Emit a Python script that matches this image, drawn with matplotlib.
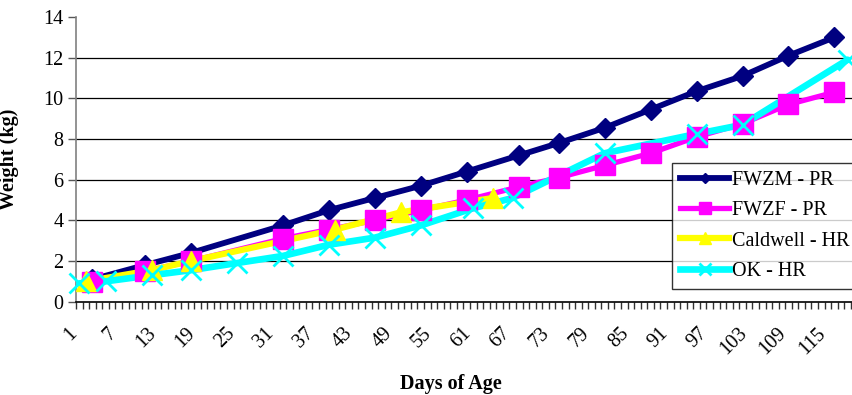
import matplotlib
matplotlib.use("Agg")
import matplotlib.pyplot as plt
from matplotlib.lines import Line2D
from matplotlib.transforms import ScaledTranslation

plt.rcParams['font.family'] = ['Liberation Serif', 'DejaVu Serif']

# ---- data ----
fwzm_days = [3, 11, 18, 32, 39, 46, 53, 60, 68, 74, 81, 88, 95, 102, 109, 116]
fwzm_wt = [1.1, 1.8, 2.4, 3.75, 4.5, 5.1, 5.7, 6.4, 7.2, 7.8, 8.55, 9.45, 10.35, 11.1, 12.1, 13.0]

fwzf_days = [3, 11, 18, 32, 39, 46, 53, 60, 68, 74, 81, 88, 95, 102, 109, 116]
fwzf_wt = [0.97, 1.5, 2.0, 3.1, 3.55, 4.0, 4.5, 5.0, 5.65, 6.1, 6.7, 7.3, 8.1, 8.75, 9.7, 10.3]

caldwell_days = [2, 12, 18, 40, 50, 64]
caldwell_wt = [1.0, 1.55, 2.0, 3.55, 4.4, 5.1]

ok_days = [1, 5, 12, 18, 25, 32, 39, 46, 53, 61, 67, 81, 95, 102, 118]
ok_wt = [0.9, 1.0, 1.3, 1.55, 1.9, 2.25, 2.8, 3.15, 3.75, 4.6, 5.1, 7.3, 8.25, 8.7, 11.9]

series_names = ["FWZM - PR", "FWZF - PR", "Caldwell - HR", "OK - HR"]
n_categories = 120
xtick_labels = list(range(1, 121, 6))
yticks = [0, 2, 4, 6, 8, 10, 12, 14]

# ---- styles ----
styles = [
    dict(color="#000080", marker="D", ms=10, mew=1, mfc="#000080", mec="#000080", lw=4.2),
    dict(color="#FF00FF", marker="s", ms=15, mew=1, mfc="#FF00FF", mec="#FF00FF", lw=3.8),
    dict(color="#FFFF00", marker="^", ms=15, mew=1, mfc="#FFFF00", mec="#FFFF00", lw=4.5),
    dict(color="#00FFFF", marker="x", ms=15, mew=2.0, mfc="#00FFFF", mec="#00FFFF", lw=4.8),
]
data = [(fwzm_days, fwzm_wt), (fwzf_days, fwzf_wt),
        (caldwell_days, caldwell_wt), (ok_days, ok_wt)]

fig = plt.figure(figsize=(8.52, 3.95), dpi=100)
ax = fig.add_axes([76/852, (395-301.7)/395, (864-76)/852, (301.7-17)/395])

# lines first, then markers on top (as in Excel)
for (d, w), st in zip(data, styles):
    ax.plot(d, w, color=st["color"], lw=st["lw"], solid_joinstyle="round",
            solid_capstyle="round", zorder=3, clip_on=False)
for (d, w), st in zip(data, styles):
    ax.plot(d, w, linestyle="none", marker=st["marker"], ms=st["ms"], mew=st["mew"],
            mfc=st["mfc"], mec=st["mec"], zorder=4, clip_on=False)

ax.set_xlim(0.5, n_categories + 0.5)
ax.set_ylim(0, 14)

# y axis
ax.set_yticks(yticks)
ax.set_yticklabels([str(v) for v in yticks], fontsize=14.5)
ax.tick_params(axis="y", direction="out", length=6, width=1, color="#555555", pad=3)
ax.grid(axis="y", color="#000000", lw=0.9, zorder=1)
ygl = ax.get_ygridlines()
ygl[0].set_visible(False)
ygl[-1].set_visible(False)

# x axis (category axis)
ax.set_xticks(xtick_labels)
ax.set_xticklabels([str(v) for v in xtick_labels], fontsize=14.5)
ax.set_xticks([i + 0.5 for i in range(0, n_categories + 1)], minor=True)
ax.tick_params(axis="x", which="major", length=0, pad=21)
ax.tick_params(axis="x", which="minor", direction="out", length=5, width=1, color="#333333")
offset = ScaledTranslation(-5/100, 0, fig.dpi_scale_trans)
for lab in ax.get_xticklabels():
    lab.set_rotation(45)
    lab.set_ha("right")
    lab.set_va("center")
    lab.set_rotation_mode("anchor")
    lab.set_transform(lab.get_transform() + offset)

for s in ["top", "right"]:
    ax.spines[s].set_visible(False)
ax.spines["left"].set_color("#808080")
ax.spines["left"].set_linewidth(1.2)
ax.spines["bottom"].set_color("#000000")
ax.spines["bottom"].set_linewidth(1.2)

ax.set_ylabel("Weight (kg)", fontsize=14.5, fontweight="bold")
ax.yaxis.set_label_coords(-0.0723, 0.5)
ax.set_xlabel("Days of Age", fontsize=14.5, fontweight="bold")
ax.xaxis.set_label_coords((451-76)/788, -(374-301.7)/284.7)

# legend
handles = [Line2D([], [], color=st["color"], lw=st["lw"], marker=st["marker"],
                  ms=st["ms"]*0.55, mew=st["mew"], mfc=st["mfc"], mec=st["mec"])
           for st in styles]
leg = fig.legend(handles, series_names, loc="upper left",
                 bbox_to_anchor=(672/852, 1 - 163/395), fontsize=14.5,
                 frameon=True, fancybox=False, edgecolor="#000000",
                 handlelength=2.45, handletextpad=0.15, labelspacing=0.55,
                 borderpad=0.4, borderaxespad=0)
leg.get_frame().set_linewidth(1.0)
leg.set_zorder(10)

fig.savefig("out.png", dpi=100)
